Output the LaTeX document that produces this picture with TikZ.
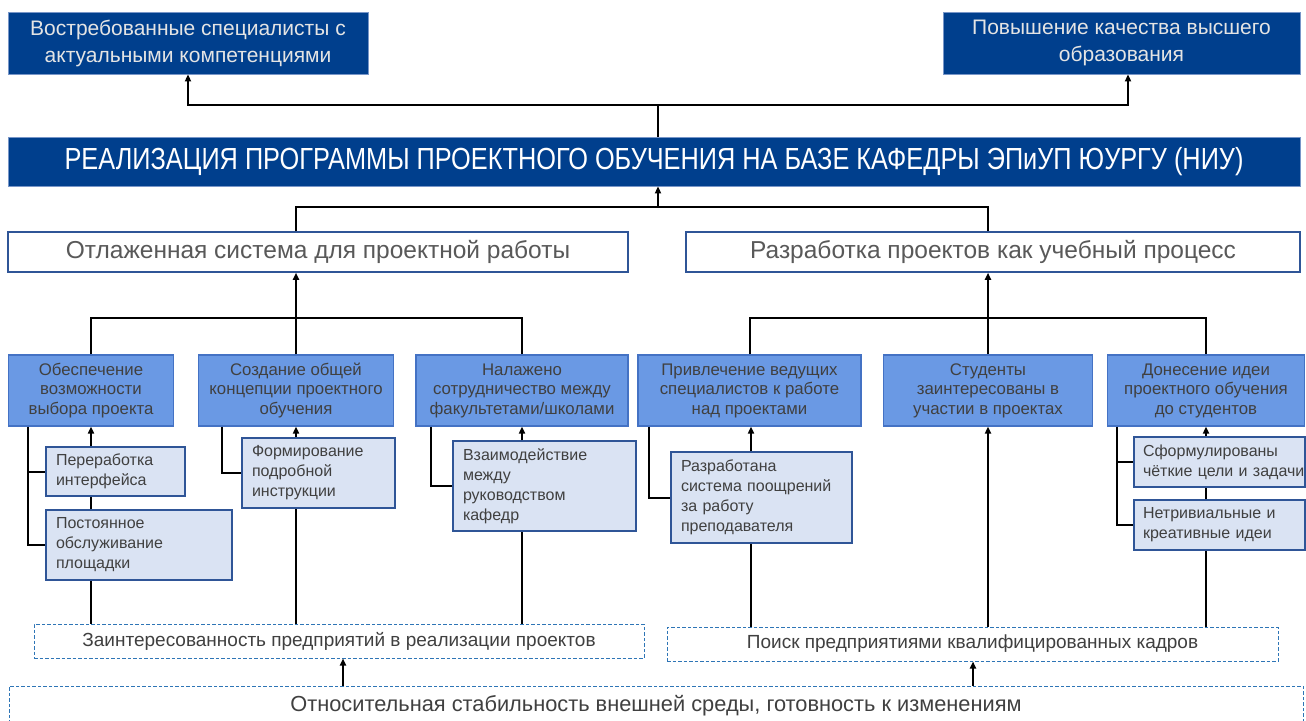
\documentclass[tikz,border=0pt]{standalone}
\usepackage{fontspec}
\setmainfont{Liberation Sans}
\newfontfamily\condfont{Liberation Sans}[FakeStretch=0.83]
\usetikzlibrary{arrows.meta}
\definecolor{navy}{RGB}{0,63,141}
\definecolor{navyedge}{RGB}{120,150,200}
\definecolor{midblue}{RGB}{106,153,228}
\definecolor{midborder}{RGB}{68,114,196}
\definecolor{lightfill}{RGB}{218,227,243}
\definecolor{lightborder}{RGB}{47,85,151}
\definecolor{dashblue}{RGB}{46,117,182}
\definecolor{txtgray}{RGB}{64,64,64}
\definecolor{txtmid}{RGB}{89,89,89}
\definecolor{txtlight}{RGB}{228,228,228}
\tikzset{
 darkbox/.style={draw=navyedge, line width=0.8pt, fill=navy, text=txtlight, inner sep=0pt, align=center, font=\fontsize{21}{27}\selectfont},
 titlebox/.style={draw=navyedge, line width=0.8pt, fill=navy, text=white, inner sep=0pt, font=\condfont\fontsize{30.5}{36}\selectfont},
 whitebox/.style={draw=lightborder, line width=1.5pt, fill=white, text=txtmid, inner sep=0pt, font=\fontsize{24.5}{30}\selectfont},
 bluebox/.style={draw=midborder, line width=1.2pt, fill=midblue, text=txtgray, inner sep=0pt, align=center, font=\fontsize{16.8}{19.5}\selectfont},
 lightbox/.style={draw=lightborder, line width=1.2pt, fill=lightfill, text=txtgray, inner xsep=10pt, inner ysep=0pt, align=left, font=\fontsize{16}{20}\selectfont},
 dashbox/.style={draw=dashblue, line width=1pt, dash pattern=on 3.5pt off 2pt, fill=white, text=txtgray, inner sep=0pt, font=\fontsize{19}{24}\selectfont},
 link/.style={line width=2pt, draw=black},
 arr/.style={link, -{Triangle[length=7pt,width=6pt]}},
}
\begin{document}
\begin{tikzpicture}[x=1pt,y=-1pt]
\useasboundingbox[fill=white] (0,0) rectangle (1306,720);
% top outcomes
\node[darkbox, minimum width=360pt, minimum height=62pt] (t1) at (188,43) {Востребованные специалисты с\\актуальными компетенциями};
\node[darkbox, minimum width=357pt, minimum height=62pt] (t2) at (1121.5,43) {Повышение качества высшего\\образования};
% main
\node[titlebox, minimum width=1292pt, minimum height=49pt] (main) at (654,161.5) {РЕАЛИЗАЦИЯ ПРОГРАММЫ ПРОЕКТНОГО ОБУЧЕНИЯ НА БАЗЕ КАФЕДРЫ ЭПиУП ЮУРГУ (НИУ)};
% second level
\node[whitebox, minimum width=620pt, minimum height=40pt] (w1) at (318,252) {Отлаженная система для проектной работы};
\node[whitebox, minimum width=614pt, minimum height=40pt] (w2) at (993,252) {Разработка проектов как учебный процесс};
% blue boxes
\node[bluebox, minimum width=165pt, minimum height=71pt] (b1) at (91,390.5) {Обеспечение\\возможности\\выбора проекта};
\node[bluebox, minimum width=195pt, minimum height=71pt] (b2) at (296,390.5) {Создание общей\\концепции проектного\\обучения};
\node[bluebox, minimum width=212pt, minimum height=71pt] (b3) at (522,390.5) {Налажено\\сотрудничество между\\факультетами/школами};
\node[bluebox, minimum width=223pt, minimum height=71pt] (b4) at (749.5,390.5) {Привлечение ведущих\\специалистов к работе\\над проектами};
\node[bluebox, minimum width=209pt, minimum height=71pt] (b5) at (988,390.5) {Студенты\\заинтересованы в\\участии в проектах};
\node[bluebox, minimum width=197pt, minimum height=71pt] (b6) at (1206,390.5) {Донесение идеи\\проектного обучения\\до студентов};
% light boxes
\node[lightbox, text width=119pt, minimum height=49pt] (la) at (115.5,471.5) {Переработка\\интерфейса};
\node[lightbox, text width=166pt, minimum height=70pt] (lb) at (139,545) {Постоянное\\обслуживание\\площадки};
\node[lightbox, text width=133pt, minimum height=70pt] (lc) at (318.5,473) {Формирование\\подробной\\инструкции};
\node[lightbox, text width=163pt, minimum height=90pt] (ld) at (544.5,486) {Взаимодействие\\между\\руководством\\кафедр};
\node[lightbox, text width=161pt, minimum height=91pt] (le) at (761.5,497.5) {Разработана\\система поощрений\\за работу\\преподавателя};
\node[lightbox, inner xsep=9pt, text width=153pt, minimum height=50pt] (lf) at (1219.5,462) {\mbox{Сформулированы}\\\mbox{чёткие цели и задачи}};
\node[lightbox, inner xsep=9pt, text width=153pt, minimum height=50pt] (lg) at (1219.5,525) {Нетривиальные и\\креативные идеи};
% dashed boxes
\node[dashbox, minimum width=610pt, minimum height=34pt] (d1) at (339,641) {Заинтересованность предприятий в реализации проектов};
\node[dashbox, minimum width=611pt, minimum height=34pt] (d2) at (972.5,644) {Поиск предприятиями квалифицированных кадров};
\node[dashbox, minimum width=1294pt, minimum height=40pt, font=\fontsize{21.8}{27}\selectfont] (d3) at (656,706) {Относительная стабильность внешней среды, готовность к изменениям};
% junction coordinates
\coordinate (j0) at (658,105);
\coordinate (j1) at (658,207);
\coordinate (j2) at (296,318);
\coordinate (j3) at (988,318);
\coordinate (wl) at ([xshift=-22pt]w1.north);
\coordinate (wr) at ([xshift=-5pt]w2.north);
\coordinate (tr) at ([xshift=6.5pt]t2.south);
\coordinate (k1) at ([xshift=-63pt]b1.south);
\coordinate (k2) at ([xshift=-74pt]b2.south);
\coordinate (k3) at ([xshift=-91pt]b3.south);
\coordinate (k4) at ([xshift=-100.5pt]b4.south);
\coordinate (k6) at ([xshift=-89pt]b6.south);
\coordinate (m1) at ([xshift=4pt]d1.south);
\coordinate (m2) at ([xshift=0.5pt]d2.south);
\coordinate (b4x) at ([xshift=1.5pt]b4.south);
% top connectors
\draw[link] (main.north -| j0) -- (j0);
\draw[arr] (j0) -| (t1.south);
\draw[arr] (j0) -| (tr);
\draw[arr] (j1) -- (main.south -| j1);
\draw[link] (wl) |- (j1) -| (wr);
% trees
\draw[arr] (j2) -- (w1.south -| j2);
\draw[link] (b1.north) |- (j2) -| (b3.north);
\draw[link] (b2.north) -- (j2);
\draw[arr] (j3) -- (w2.south -| j3);
\draw[link] (b4.north) |- (j3) -| (b6.north);
\draw[link] (b5.north) -- (j3);
% box 1 group
\draw[link] (k1) |- (lb.west);
\draw[link] (k1 |- la.west) -- (la.west);
\draw[arr] (b1.south |- la.north) -- (b1.south);
\draw[link] (b1.south |- lb.north) -- (b1.south |- la.south);
\draw[link] (b1.south |- d1.north) -- (b1.south |- lb.south);
% box 2 group
\draw[link] (k2) |- (lc.west);
\draw[arr] (b2.south |- lc.north) -- (b2.south);
\draw[link] (b2.south |- d1.north) -- (b2.south |- lc.south);
% box 3 group
\draw[link] (k3) |- (ld.west);
\draw[arr] (b3.south |- ld.north) -- (b3.south);
\draw[link] (b3.south |- d1.north) -- (b3.south |- ld.south);
% box 4 group
\draw[link] (k4) |- (le.west);
\draw[arr] (b4x |- le.north) -- (b4x);
\draw[link] (b4x |- d2.north) -- (b4x |- le.south);
% box 5
\draw[arr] (b5.south |- d2.north) -- (b5.south);
% box 6 group
\draw[link] (k6) |- (lg.west);
\draw[link] (k6 |- lf.west) -- (lf.west);
\draw[arr] (b6.south |- lf.north) -- (b6.south);
\draw[link] (b6.south |- lg.north) -- (b6.south |- lf.south);
\draw[link] (b6.south |- d2.north) -- (b6.south |- lg.south);
% bottom arrows
\draw[arr] (m1 |- d3.north) -- (m1);
\draw[arr] (m2 |- d3.north) -- (m2);
\end{tikzpicture}
\end{document}
